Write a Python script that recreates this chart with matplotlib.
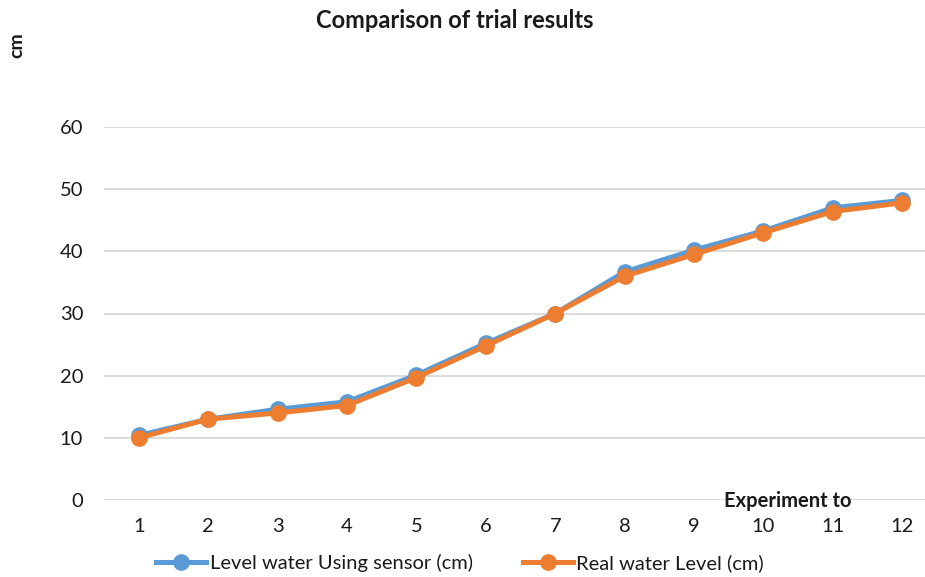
import matplotlib.pyplot as plt

plt.rcParams['font.family'] = ['Lato', 'DejaVu Sans']

# Data
experiments = list(range(1, 13))
sensor_level = [10.4, 13.0, 14.6, 15.8, 20.1, 25.2, 30.0, 36.7, 40.2, 43.3, 47.0, 48.2]
real_level = [10.0, 13.0, 14.0, 15.2, 19.7, 24.8, 30.0, 36.0, 39.5, 43.0, 46.4, 47.8]
y_ticks = [0, 10, 20, 30, 40, 50, 60]

blue = '#5B9BD5'
orange = '#ED7D31'
text_col = '#1A1A1A'

fig = plt.figure(figsize=(9.25, 5.77), dpi=100)
ax = fig.add_axes([104 / 925, 77 / 577, 833 / 925, 373 / 577])

ax.plot(experiments, sensor_level, color=blue, lw=3.6, marker='o', ms=11,
        label='Level water Using sensor (cm)', zorder=3)
ax.plot(experiments, real_level, color=orange, lw=3.6, marker='o', ms=11,
        label='Real water Level (cm)', zorder=4)

ax.set_xlim(0.5, 12.5)
ax.set_ylim(0, 60)
ax.set_xticks(experiments)
ax.set_yticks(y_ticks)
ax.tick_params(axis='both', length=0, labelsize=14.5, colors=text_col)
ax.tick_params(axis='x', pad=13)
ax.tick_params(axis='y', pad=15)
ax.grid(axis='y', color='#D9D9D9', lw=1.3)
ax.set_axisbelow(True)
for s in ax.spines.values():
    s.set_visible(False)

fig.text(455 / 925, 1 - 21 / 577, 'Comparison of trial results', ha='center', va='center',
         fontsize=17, fontweight='bold', color=text_col)
fig.text(17 / 925, 1 - 45 / 577, 'cm', ha='center', va='center', rotation=90,
         fontsize=14, fontweight='bold', color=text_col)
fig.text(788 / 925, 1 - 501 / 577, 'Experiment to', ha='center', va='center',
         fontsize=14.5, fontweight='bold', color=text_col)

fig.legend(loc='center', bbox_to_anchor=(460 / 925, 1 - 563 / 577), ncol=2, frameon=False,
           fontsize=14.5, handlelength=2.5, handletextpad=0.15, columnspacing=2.5,
           labelcolor=text_col)

plt.savefig('out.png', dpi=100)
